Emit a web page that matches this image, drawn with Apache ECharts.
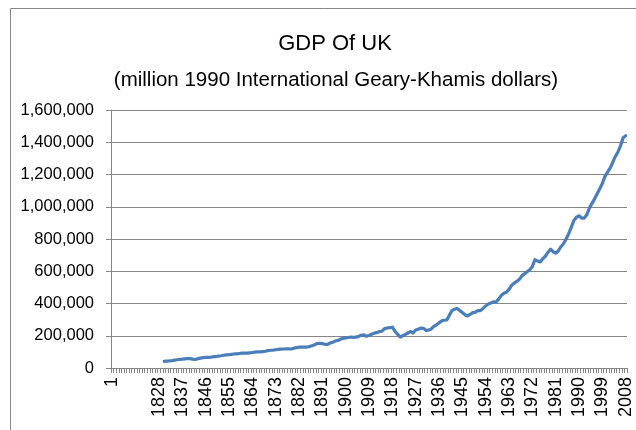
<!DOCTYPE html>
<html>
<head>
<meta charset="utf-8">
<script src="https://cdn.jsdelivr.net/npm/echarts@6/dist/echarts.min.js"></script>
<style>
  html, body { margin: 0; padding: 0; background: #fff; }
  #chart { width: 636px; height: 430px; }
</style>
</head>
<body>
<div id="chart"></div>
<script>
// first label is year 1, then a gap of unlabeled rows before the annual series
const firstLabel = '1';
const gapCount = 17;
const firstYear = 1828;
const lastYear = 2008;

// GDP of UK, million 1990 International Geary-Khamis dollars, 1830 - 2008
const dataStartYear = 1830;
const gdp = [
  41000, 43000, 44000, 46000, 49000, 51000, 54000, 55000, 57000, 59000,
  58000, 55000, 53000, 57000, 61000, 64000, 66000, 66000, 67000, 70000,
  71000, 74000, 76000, 79000, 81000, 82000, 85000, 87000, 88000, 90000,
  92000, 93000, 92000, 94000, 96000, 98000, 100000, 100000, 102000, 104000,
  108000, 110000, 111000, 113000, 115000, 117000, 118000, 119000, 119000, 118000,
  123000, 126000, 129000, 130000, 130000, 130000, 133000, 138000, 144000, 152000,
  153000, 151000, 147000, 146000, 155000, 160000, 167000, 171000, 178000, 185000,
  187000, 189000, 192000, 190000, 191000, 196000, 203000, 205000, 197000, 202000,
  209000, 216000, 219000, 226000, 228000, 244000, 248000, 250000, 253000, 228000,
  210000, 192000, 200000, 208000, 217000, 226000, 218000, 236000, 240000, 248000,
  246000, 233000, 235000, 242000, 258000, 268000, 280000, 292000, 296000, 298000,
  327000, 356000, 364000, 369000, 356000, 344000, 330000, 323000, 332000, 343000,
  346000, 356000, 356000, 370000, 385000, 397000, 403000, 410000, 410000, 427000,
  450000, 464000, 470000, 488000, 513000, 526000, 537000, 550000, 573000, 584000,
  597000, 609000, 630000, 672000, 663000, 658000, 677000, 693000, 717000, 737000,
  721000, 712000, 726000, 752000, 771000, 800000, 833000, 872000, 915000, 935000,
  944000, 930000, 930000, 950000, 992000, 1021000, 1049000, 1080000, 1112000, 1145000,
  1188000, 1215000, 1240000, 1275000, 1312000, 1340000, 1378000, 1428000, 1440000
];

const yMax = 1600000;
const yStep = 200000;

// build category list and align the series to it
const categories = [firstLabel];
for (let i = 0; i < gapCount; i++) categories.push('');
for (let y = firstYear; y <= lastYear; y++) categories.push(String(y));

const seriesData = categories.map(() => null);
const offset = categories.indexOf(String(dataStartYear));
gdp.forEach((v, i) => { seriesData[offset + i] = v; });

const chart = echarts.init(document.getElementById('chart'), null, { renderer: 'canvas' });

const axisGrey = '#868686';
const font = 'Liberation Sans, Arial, sans-serif';

const option = {
  backgroundColor: '#fff',
  animation: false,
  graphic: [
    {
      type: 'rect',
      shape: { x: 10.5, y: 8.5, width: 700, height: 500 },
      style: { fill: 'none', stroke: axisGrey, lineWidth: 1 },
      silent: true
    }
  ],
  title: [
    {
      text: 'GDP Of UK',
      left: 330,
      top: 28,
      textAlign: 'center',
      textStyle: { fontFamily: font, fontSize: 22, fontWeight: 'normal', color: '#000' }
    },
    {
      text: '(million 1990 International Geary-Khamis dollars)',
      left: 331,
      top: 65,
      textAlign: 'center',
      textStyle: { fontFamily: font, fontSize: 20.5, fontWeight: 'normal', color: '#000' }
    }
  ],
  grid: {
    left: 111,
    right: 9,
    top: 110,
    bottom: 62,
    containLabel: false
  },
  xAxis: {
    type: 'category',
    data: categories,
    boundaryGap: true,
    axisLine: { lineStyle: { color: axisGrey, width: 1 } },
    axisTick: { show: true, interval: 0, length: 5, lineStyle: { color: axisGrey } },
    axisLabel: {
      interval: 8,
      rotate: 90,
      margin: 9,
      fontFamily: font,
      fontSize: 18,
      color: '#000'
    },
    splitLine: { show: false }
  },
  yAxis: {
    type: 'value',
    min: 0,
    max: yMax,
    interval: yStep,
    axisLine: { show: true, lineStyle: { color: axisGrey, width: 1 } },
    axisTick: { show: true, length: 5, lineStyle: { color: axisGrey } },
    axisLabel: {
      margin: 17,
      fontFamily: font,
      fontSize: 16.5,
      color: '#000',
      formatter: v => v.toLocaleString('en-US')
    },
    splitLine: { lineStyle: { color: axisGrey, width: 1 } }
  },
  series: [
    {
      name: 'GDP',
      type: 'line',
      data: seriesData,
      showSymbol: false,
      connectNulls: false,
      lineStyle: { color: '#4a7ebb', width: 3.2, cap: 'round', join: 'round' },
      itemStyle: { color: '#4a7ebb' }
    }
  ]
};

chart.setOption(option);
</script>
</body>
</html>
